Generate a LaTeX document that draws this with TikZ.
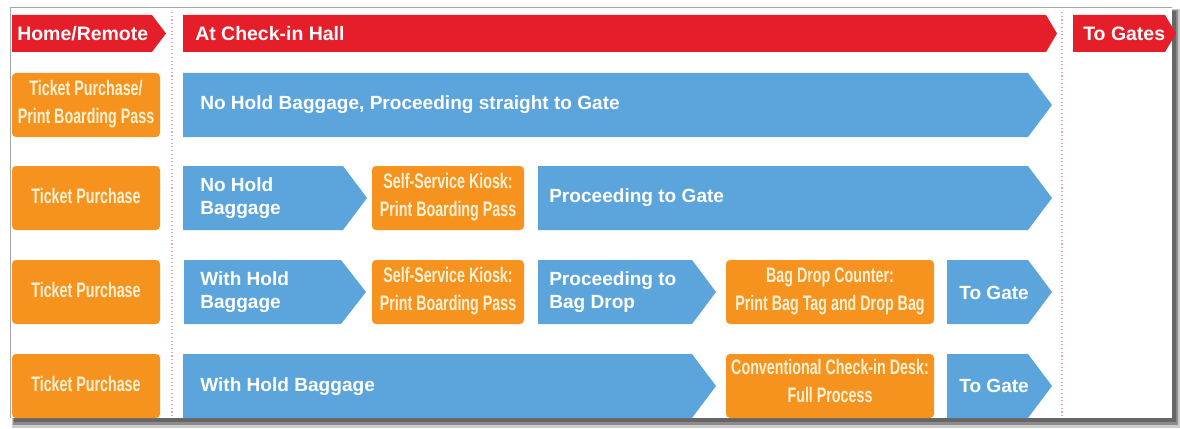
\documentclass[tikz,border=0pt]{standalone}
\usepackage{fontspec}
\setmainfont{Liberation Sans}
\definecolor{hred}{HTML}{E61E2A}
\definecolor{sorange}{HTML}{F6921E}
\definecolor{sblue}{HTML}{5BA4DC}
\definecolor{otext}{HTML}{FFF1D2}
\definecolor{dotpink}{HTML}{E5A3B5}
\newcommand\ot[1]{\scalebox{0.68}[1]{\begin{tabular}{@{}c@{}}#1\end{tabular}}}
% chevron: xleft, ytop, xflat, xtip, ybottom, colour
\newcommand\chev[6]{\fill[#6] (#1,#2) -- (#3,#2) -- (#4,{(#2+#5)/2}) -- (#3,#5) -- (#1,#5) -- cycle;}
\tikzset{
  hdtxt/.style={text=white, font=\fontsize{14.6}{17}\selectfont\bfseries, anchor=west, inner sep=0pt},
  bltxt/.style={text=white, font=\fontsize{14.3}{17.5}\selectfont\bfseries, anchor=west, align=left, inner sep=0pt},
  obox/.style={fill=sorange, rounded corners=3pt},
  otxt/.style={text=otext, font=\fontsize{15.75}{21}\selectfont\bfseries, inner sep=0pt},
  sep/.style={dotpink, dotted, line width=0.8pt}
}
\begin{document}
\begin{tikzpicture}[x=0.75pt,y=-0.75pt]
\useasboundingbox (0,0) rectangle (1180,428);
\fill[white] (0,0) rectangle (1180,428);
% frame with shadow
\fill[black!20] (12,9) rectangle (1180,428);
\fill[black!45] (13,10) rectangle (1178,425);
\fill[black!60] (14,11) rectangle (1176,422);
\fill[white] (10,7) rectangle (1172,418);
\draw[black!35, line width=0.6pt] (10,418) -- (10,7) -- (1172,7);
% separators
\draw[sep] (172,12) -- (172,418);
\draw[sep] (1062,12) -- (1062,418);
% headers
\chev{12}{15}{152}{166}{52}{hred}
\chev{183}{15}{1046}{1057}{52}{hred}
\chev{1073}{15}{1165}{1176}{52}{hred}
\node[hdtxt] (h1) at (17,33.5) {Home/Remote};
\node[hdtxt] (h2) at (195,33.5) {At Check-in Hall};
\node[hdtxt] (h3) at (1083,33.5) {To Gates};
% row 1
\fill[obox] (12,73) rectangle (160,137);
\node[otxt] (r1a) at (86,104) {\ot{Ticket Purchase/\\Print Boarding Pass}};
\chev{183}{73}{1028}{1052}{137}{sblue}
\node[bltxt] (r1b) at (200,105) {No Hold Baggage, Proceeding straight to Gate};
% row 2
\fill[obox] (12,166) rectangle (160,230);
\node[otxt] (r2a) at (86,198) {\ot{Ticket Purchase}};
\chev{183}{166}{343}{367}{230}{sblue}
\node[bltxt] (r2b) at (200,198) {No Hold\\Baggage};
\fill[obox] (372,166) rectangle (524,230);
\node[otxt] (r2c) at (448,197) {\ot{Self-Service Kiosk:\\Print Boarding Pass}};
\chev{538}{166}{1028}{1052}{230}{sblue}
\node[bltxt] (r2d) at (549,198) {Proceeding to Gate};
% row 3
\fill[obox] (12,260) rectangle (160,324);
\node[otxt] (r3a) at (86,292) {\ot{Ticket Purchase}};
\chev{184}{260}{341}{366}{324}{sblue}
\node[bltxt] (r3b) at (200,292) {With Hold\\Baggage};
\fill[obox] (372,260) rectangle (524,324);
\node[otxt] (r3c) at (448,291) {\ot{Self-Service Kiosk:\\Print Boarding Pass}};
\chev{538}{260}{692}{716}{324}{sblue}
\node[bltxt] (r3d) at (549,292) {Proceeding to\\Bag Drop};
\fill[obox] (726,260) rectangle (934,324);
\node[otxt] (r3e) at (830,291) {\ot{Bag Drop Counter:\\Print Bag Tag and Drop Bag}};
\chev{947}{260}{1028}{1052}{324}{sblue}
\node[bltxt] (r3f) at (959,293) {To Gate};
% row 4
\fill[obox] (12,354) rectangle (160,418);
\node[otxt] (r4a) at (86,386) {\ot{Ticket Purchase}};
\chev{183}{354}{692}{716}{418}{sblue}
\node[bltxt] (r4b) at (200,387) {With Hold Baggage};
\fill[obox] (726,354) rectangle (934,418);
\node[otxt] (r4c) at (830,383) {\ot{Conventional Check-in Desk:\\Full Process}};
\chev{947}{354}{1028}{1052}{418}{sblue}
\node[bltxt] (r4d) at (959,386) {To Gate};
\end{tikzpicture}
\end{document}
